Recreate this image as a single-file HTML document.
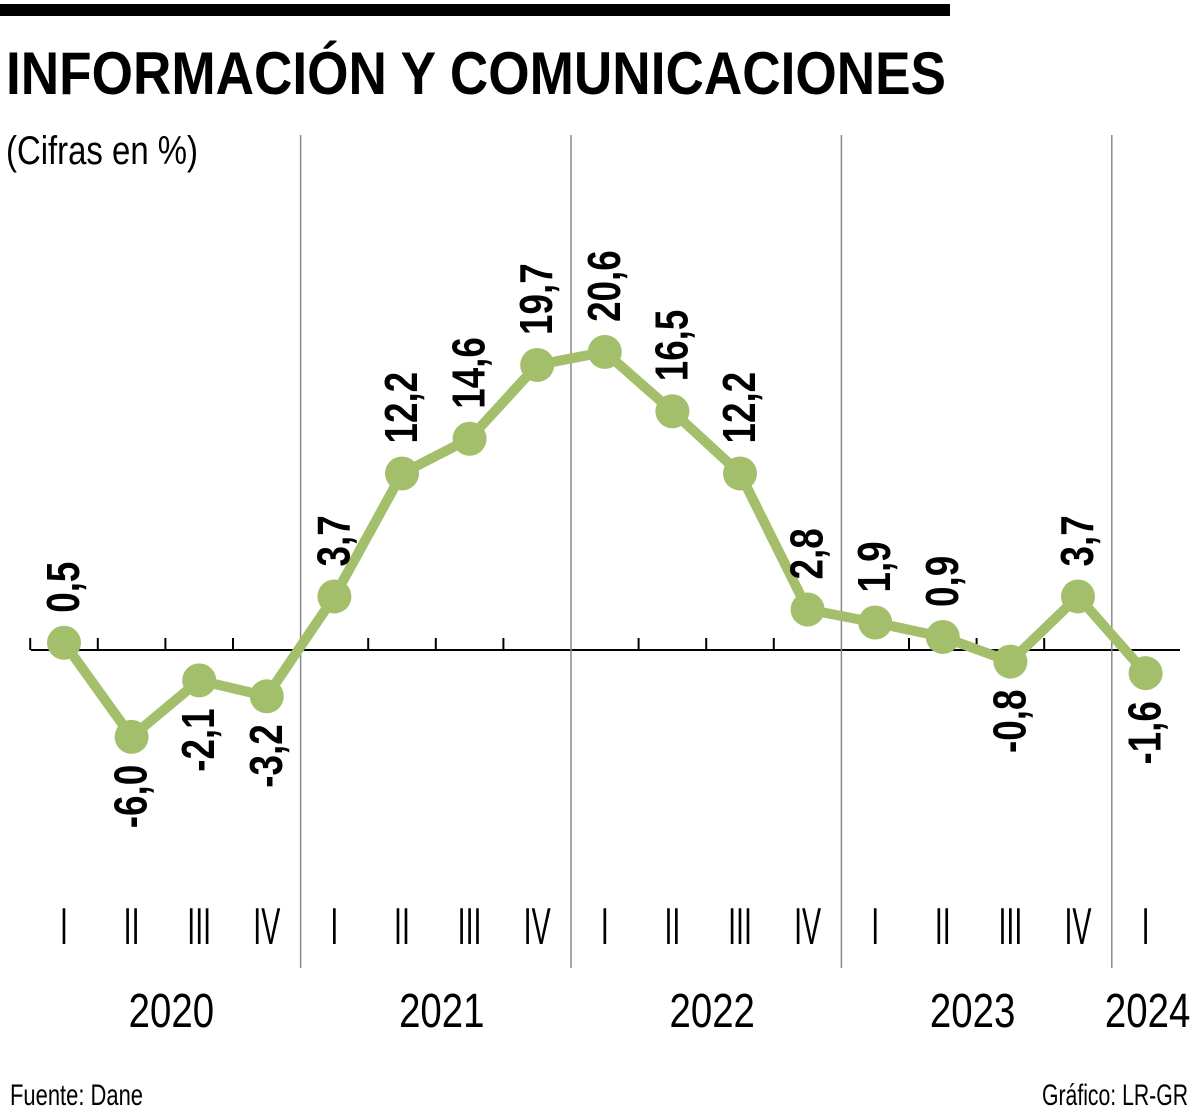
<!DOCTYPE html>
<html><head><meta charset="utf-8"><style>
body{margin:0;background:#fff;}
svg{display:block;font-family:"Liberation Sans",sans-serif;}
</style></head><body>
<svg id="chart" width="1200" height="1115" viewBox="0 0 1200 1115">
<rect x="0" y="4" width="950" height="12" fill="#000"/>
<text x="6" y="94" font-size="60" font-weight="bold" textLength="940" lengthAdjust="spacingAndGlyphs">INFORMACIÓN Y COMUNICACIONES</text>
<text x="6" y="164" font-size="40" textLength="192" lengthAdjust="spacingAndGlyphs">(Cifras en %)</text>
<g id="grid"></g>
<g id="series"></g>
<g id="labels"></g>
<text x="10" y="1105" font-size="30" textLength="133" lengthAdjust="spacingAndGlyphs">Fuente: Dane</text>
<text x="1188" y="1105" font-size="30" text-anchor="end" textLength="146" lengthAdjust="spacingAndGlyphs">Gráfico: LR-GR</text>
</svg>
<script>
const quarters = ["I","II","III","IV","I","II","III","IV","I","II","III","IV","I","II","III","IV","I"];
const values = [0.5,-6.0,-2.1,-3.2,3.7,12.2,14.6,19.7,20.6,16.5,12.2,2.8,1.9,0.9,-0.8,3.7,-1.6];
const valueLabels = ["0,5","-6,0","-2,1","-3,2","3,7","12,2","14,6","19,7","20,6","16,5","12,2","2,8","1,9","0,9","-0,8","3,7","-1,6"];
const years = ["2020","2021","2022","2023","2024"];
const yearStarts = [0,4,8,12,16];

const NS="http://www.w3.org/2000/svg";
const x0=64, step=67.6, y0=650, k=14.47;
const xs=i=>x0+i*step;
const ys=v=>y0-v*k;
function mk(tag,attrs,parent){const e=document.createElementNS(NS,tag);for(const a in attrs)e.setAttribute(a,attrs[a]);parent.appendChild(e);return e;}
const grid=document.getElementById('grid'), series=document.getElementById('series'), labels=document.getElementById('labels');
const n=values.length;

let ax=mk('line',{x1:31,x2:1180,y1:y0,y2:y0,stroke:'#000','stroke-width':2},grid);


for(let i=0;i<n;i++){
  const bx=xs(i)-step/2;
  const isYear=yearStarts.includes(i)&&i>0;
  if(isYear){
    const l=mk('line',{x1:bx,x2:bx,y1:135,y2:968,stroke:'#888','stroke-width':1.5},grid);
    
    
  } else {
    const t=mk('line',{x1:bx,x2:bx,y1:y0-12,y2:y0,stroke:'#000','stroke-width':2},grid);
    
    
  }
  const q=mk('text',{x:xs(i),y:944,'font-size':52,'text-anchor':'middle',transform:`translate(${xs(i)},0) scale(0.55,1) translate(${-xs(i)},0)`},grid);
  q.textContent=quarters[i];
  
  
}
years.forEach((y,j)=>{
  const s=yearStarts[j], e=(j+1<yearStarts.length?yearStarts[j+1]:n)-1;
  const cx=(xs(s)+xs(e))/2 + (j===years.length-1?2:(j===3?-4:6));
  const t=mk('text',{x:cx,y:1027,'font-size':48,'text-anchor':'middle',transform:`translate(${cx},0) scale(0.8,1) translate(${-cx},0)`},grid);
  t.textContent=y;
  
  
});

const pl=mk('polyline',{points:values.map((v,i)=>xs(i)+','+ys(v)).join(' '),fill:'none',stroke:'#a3bf6b','stroke-width':10,'stroke-linejoin':'round'},series);


values.forEach((v,i)=>{
  const c=mk('circle',{cx:xs(i),cy:ys(v),r:17,fill:'#a3bf6b'},series);
  
  
  const px=xs(i)+15, py=v>=0?ys(v)-30:ys(v)+28;
  const t=mk('text',{x:0,y:0,'font-size':46,'font-weight':'bold','text-anchor':v>=0?'start':'end',transform:`translate(${px},${py}) rotate(-90) scale(0.8,1)`},labels);
  t.textContent=valueLabels[i];
  
  
});
</script>
</body></html>
